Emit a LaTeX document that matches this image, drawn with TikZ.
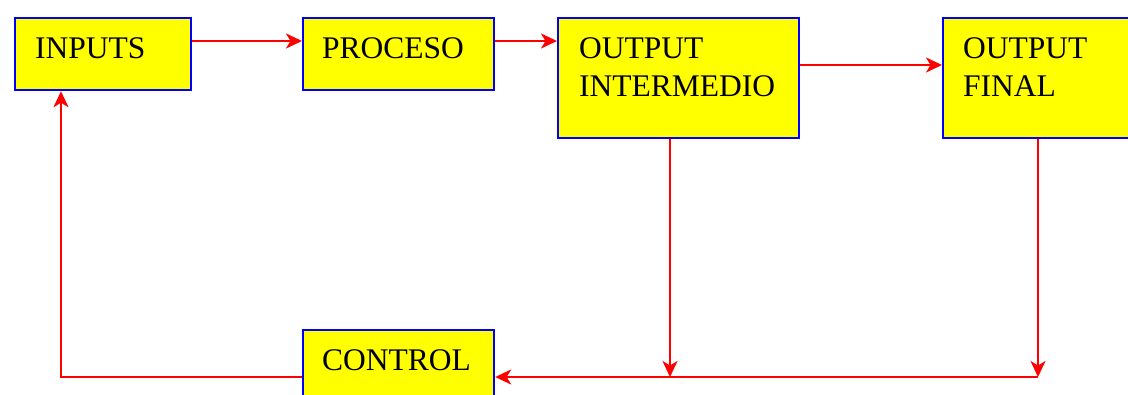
\documentclass[tikz,border=0pt]{standalone}
\usepackage{fontspec}
\setmainfont{Liberation Serif}
\usetikzlibrary{arrows.meta,calc}
\definecolor{boxfill}{RGB}{255,255,0}
\definecolor{boxline}{RGB}{0,0,255}
\definecolor{flowred}{RGB}{255,0,0}
\begin{document}
\begin{tikzpicture}[x=1pt,y=-1pt,
  blk/.style={draw=boxline, fill=boxfill, line width=2.2pt, rectangle, inner sep=0pt, anchor=north west},
  lbl/.style={anchor=base west, inner sep=0pt, align=left, font=\fontsize{31.5}{38}\selectfont},
  flow/.style={draw=flowred, line width=2.2pt, -{Stealth[length=16pt,width=15pt,inset=4.5pt]}}]
  \clip (0,0) rectangle (1128,394);
  \fill[white] (0,0) rectangle (1128,394);

  % blocks
  \node[blk, minimum width=176pt, minimum height=72pt]  (inputs)  at (14,17)  {};
  \node[blk, minimum width=191pt, minimum height=72pt]  (proceso) at (302,17) {};
  \node[blk, minimum width=241pt, minimum height=120pt] (oi)      at (557,17) {};
  \node[blk, minimum width=200pt, minimum height=120pt] (of)      at (942,17) {};
  \node[blk, minimum width=191pt, minimum height=80pt]  (control) at (302,329) {};

  % labels (base anchor sits on the last line)
  \node[lbl] (t-inputs)  at ($(inputs.north west)+(21,41)$)  {INPUTS};
  \node[lbl] (t-proceso) at ($(proceso.north west)+(20,41)$) {PROCESO};
  \node[lbl] (t-oi)      at ($(oi.north west)+(22,79)$)      {OUTPUT\\INTERMEDIO};
  \node[lbl] (t-of)      at ($(of.north west)+(21,79)$)      {OUTPUT\\FINAL};
  \node[lbl] (t-control) at ($(control.north west)+(20,41)$) {CONTROL};

  % feedback junctions
  \coordinate (j1) at (670,377);
  \coordinate (j2) at (1038,377);
  \coordinate (c1) at (61,377);

  % forward flow
  \draw[flow] ($(inputs.north east)+(0,24)$) -- ($(proceso.north west)+(0,24)$);
  \draw[flow] ($(proceso.north east)+(0,24)$) -- ($(oi.north west)+(0,24)$);
  \draw[flow] ($(oi.north east)+(0,48)$) -- ($(of.north west)+(0,48)$);

  % feedback loop
  \draw[flow] (oi.south -| j1) -- (j1);
  \draw[flow] (of.south -| j2) -- (j2);
  \draw[flow] (j2) -- (j2 -| control.east);
  \draw[flow] (control.west |- c1) -- (c1) -- (c1 |- inputs.south);
\end{tikzpicture}
\end{document}
